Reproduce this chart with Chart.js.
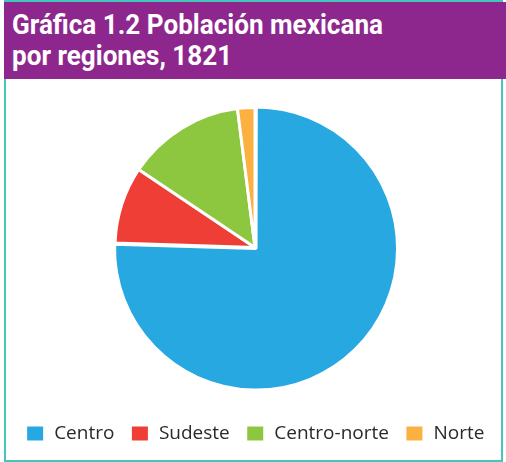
<!DOCTYPE html>
<html>
<head>
<meta charset="utf-8">
<script src="https://cdn.jsdelivr.net/npm/chart.js@4.4.1/dist/chart.umd.min.js"></script>
<style>
  html, body { margin: 0; padding: 0; background: #fff; }
  body { width: 506px; height: 462px; position: relative; overflow: hidden; }
  #frame {
    position: absolute; left: 4px; top: 0; width: 499px; height: 462px;
    border: 2px solid #45c6bc; box-sizing: border-box;
  }
  #header {
    position: absolute; left: 4px; top: 2px; width: 502px; height: 77px;
    background: #8e278d;
  }
  #title {
    position: absolute; left: 8px; top: 7px; margin: 0;
    color: #fff; white-space: nowrap;
    font-family: Roboto, "DejaVu Sans Condensed", sans-serif;
    font-weight: bold; font-size: 28px; line-height: 31px;
    transform-origin: 0 0;
  }
  #chart-wrap { position: absolute; left: 8px; top: 79px; width: 494px; height: 380px; }
</style>
</head>
<body>
<div id="frame"></div>
<div id="header"><div id="title">Gráfica 1.2 Población mexicana<br>por regiones, 1821</div></div>
<div id="chart-wrap"><canvas id="chart"></canvas></div>
<script>
const regiones = ["Centro", "Sudeste", "Centro-norte", "Norte"];
const poblacion = [75.5, 8.9, 13.6, 2.0];
const colores = ["#27a8e0", "#ee3e36", "#8dc63f", "#fbb040"];

// squeeze the title to the condensed width of the original
const title = document.getElementById("title");
const range = document.createRange();
range.selectNodeContents(title.firstChild);
const firstLineWidth = range.getBoundingClientRect().width;
title.style.transform = `scaleX(${371 / firstLineWidth})`;

const ctx = document.getElementById("chart");
new Chart(ctx, {
  type: "pie",
  data: {
    labels: regiones,
    datasets: [{
      data: poblacion,
      backgroundColor: colores,
      borderColor: "#ffffff",
      borderWidth: 3,
      offset: [6, 0, 0, 0],
      hoverOffset: 0,
    }],
  },
  options: {
    responsive: true,
    maintainAspectRatio: false,
    animation: false,
    radius: 140,
    layout: { padding: { top: 8, bottom: 6 } },
    plugins: {
      tooltip: { enabled: false },
      legend: {
        position: "bottom",
        labels: {
          boxWidth: 19,
          boxHeight: 17,
          padding: 16,
          color: "#2a2a2a",
          font: { family: "'Open Sans', sans-serif", size: 19 },
        },
      },
    },
  },
});
</script>
</body>
</html>
